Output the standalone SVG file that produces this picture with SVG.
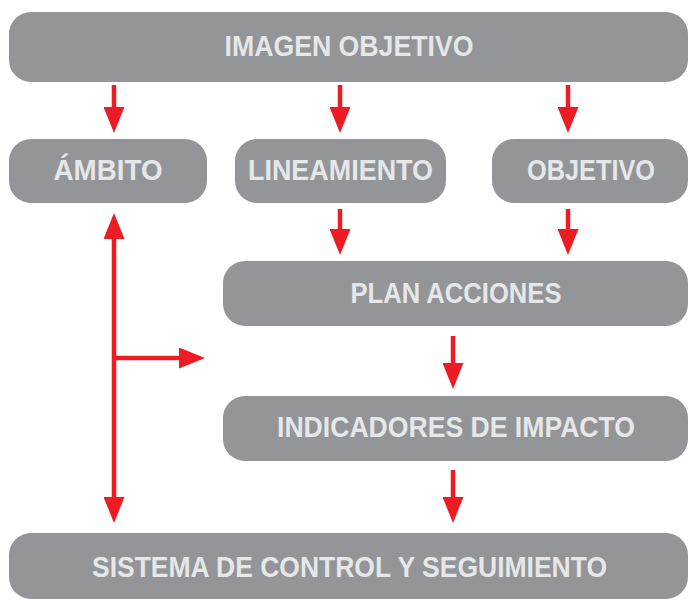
<svg xmlns="http://www.w3.org/2000/svg" width="690" height="599" viewBox="0 0 690 599">
<defs>
<style>
.box{fill:#939598;}
.lbl{fill:#e6e7e8;font-family:"Liberation Sans",Arial,sans-serif;font-weight:bold;font-size:29px;text-anchor:middle;}
.con{stroke:#ed1c24;stroke-width:4.5;fill:none;marker-end:url(#ah);}
</style>
<marker id="ah" viewBox="0 0 26 21" refX="0" refY="10.5" markerWidth="26" markerHeight="21" markerUnits="userSpaceOnUse" orient="auto-start-reverse">
<path d="M0,0 L26,10.5 L0,21 Z" fill="#ed1c24"/>
</marker>
</defs>
<rect width="690" height="599" fill="#ffffff"/>
<g id="imagen-objetivo">
<rect class="box" x="9" y="12" width="679" height="70" rx="22"/>
<text class="lbl" x="349" y="56" textLength="249" lengthAdjust="spacingAndGlyphs">IMAGEN OBJETIVO</text>
</g>
<g id="ambito">
<rect class="box" x="9" y="139" width="198" height="64" rx="22"/>
<text class="lbl" x="108" y="180" textLength="109" lengthAdjust="spacingAndGlyphs">ÁMBITO</text>
</g>
<g id="lineamiento">
<rect class="box" x="235" y="139" width="211" height="64" rx="22"/>
<text class="lbl" x="340.5" y="180" textLength="185" lengthAdjust="spacingAndGlyphs">LINEAMIENTO</text>
</g>
<g id="objetivo">
<rect class="box" x="492" y="139" width="196" height="64" rx="22"/>
<text class="lbl" x="591" y="180" textLength="128" lengthAdjust="spacingAndGlyphs">OBJETIVO</text>
</g>
<g id="plan-acciones">
<rect class="box" x="223" y="261" width="465" height="65" rx="22"/>
<text class="lbl" x="456" y="303" textLength="211" lengthAdjust="spacingAndGlyphs">PLAN ACCIONES</text>
</g>
<g id="indicadores">
<rect class="box" x="223" y="396" width="465" height="65" rx="22"/>
<text class="lbl" x="456" y="437" textLength="358" lengthAdjust="spacingAndGlyphs">INDICADORES DE IMPACTO</text>
</g>
<g id="sistema">
<rect class="box" x="9" y="533" width="679" height="66" rx="22"/>
<text class="lbl" x="349.5" y="577" textLength="515" lengthAdjust="spacingAndGlyphs">SISTEMA DE CONTROL Y SEGUIMIENTO</text>
</g>
<g id="connectors">
<path class="con" d="M114,85 V107"/>
<path class="con" d="M340,85 V107"/>
<path class="con" d="M568,85 V107"/>
<path class="con" d="M340,209 V229"/>
<path class="con" d="M568,209 V229"/>
<path class="con" d="M453,336 V363"/>
<path class="con" d="M453,470 V497"/>
<path class="con" d="M114,239 V497" style="marker-start:url(#ah)"/>
<path class="con" d="M114,358 H179"/>
</g>
</svg>
